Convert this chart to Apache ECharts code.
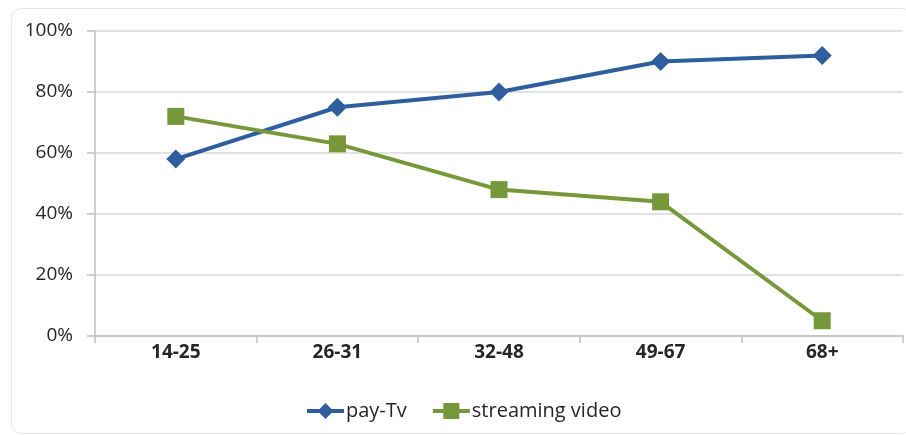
<!DOCTYPE html>
<html><head><meta charset="utf-8">
<script src="https://cdn.jsdelivr.net/npm/echarts@6/dist/echarts.min.js"></script>
<style>html,body{margin:0;padding:0;background:#fff}#c{width:906px;height:435px}</style>
</head><body><div id="c"></div>
<script>
var categories = ['14-25', '26-31', '32-48', '49-67', '68+'];
var payTv = [58, 75, 80, 90, 92];
var streamingVideo = [72, 63, 48, 44, 5];
var seriesNames = ['pay-Tv', 'streaming video'];

var chart = echarts.init(document.getElementById('c'), null, {renderer: 'canvas'});
var font = '"Open Sans", "Noto Sans", sans-serif';
chart.setOption({
  animation: false,
  backgroundColor: '#fff',
  graphic: [{
    type: 'rect', left: 11, top: 8, z: -1,
    shape: {width: 900, height: 425, r: 10},
    style: {fill: '#fff', stroke: '#e6e6e6', lineWidth: 1}
  }],
  grid: {left: 95, right: 3, top: 31, bottom: 99, containLabel: false},
  legend: {
    bottom: 9, left: 300,
    itemWidth: 37, itemHeight: 20, itemGap: 24,
    lineStyle: {width: 4},
    textStyle: {fontFamily: font, fontSize: 20, color: '#262626', padding: [0, 0, 0, -3]},
    data: seriesNames
  },
  xAxis: {
    type: 'category', data: categories, boundaryGap: true,
    axisLine: {lineStyle: {color: '#bfbfbf', width: 1.5}},
    axisTick: {show: true, length: 7, lineStyle: {color: '#bfbfbf', width: 1.5}},
    axisLabel: {fontFamily: font, fontSize: 19, fontWeight: 'bold', color: '#262626', margin: 7}
  },
  yAxis: {
    type: 'value', min: 0, max: 100, interval: 20,
    axisLine: {show: true, lineStyle: {color: '#bfbfbf', width: 1.5}},
    axisTick: {show: true, length: 8, lineStyle: {color: '#bfbfbf', width: 1.5}},
    splitLine: {lineStyle: {color: '#d9d9d9', width: 1.5}},
    axisLabel: {fontFamily: font, fontSize: 19, color: '#262626', margin: 22, formatter: '{value}%'}
  },
  series: [{
    name: seriesNames[0], type: 'line', data: payTv,
    symbol: 'diamond', symbolSize: 19,
    itemStyle: {color: '#2f5e9e'},
    lineStyle: {color: '#2f5e9e', width: 4}
  }, {
    name: seriesNames[1], type: 'line', data: streamingVideo,
    symbol: 'rect', symbolSize: 17,
    itemStyle: {color: '#76983a', borderRadius: 2},
    lineStyle: {color: '#76983a', width: 4}
  }]
});
</script></body></html>
